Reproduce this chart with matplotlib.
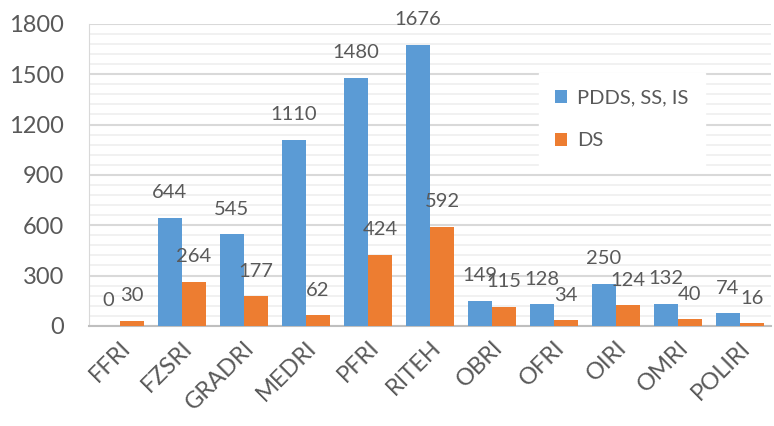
import matplotlib.pyplot as plt
import numpy as np
from matplotlib.ticker import MultipleLocator

categories = ['FFRI', 'FZSRI', 'GRADRI', 'MEDRI', 'PFRI', 'RITEH',
              'OBRI', 'OFRI', 'OIRI', 'OMRI', 'POLIRI']
pdds = [0, 644, 545, 1110, 1480, 1676, 149, 128, 250, 132, 74]
ds = [30, 264, 177, 62, 424, 592, 115, 34, 124, 40, 16]

blue = '#5B9BD5'
orange = '#ED7D31'
text_col = '#595959'

plt.rcParams['font.family'] = ['Lato', 'DejaVu Sans']

fig = plt.figure(figsize=(7.74, 4.26), dpi=100)
ax = fig.add_axes([0.115, 0.235, 0.881, 0.709])

x = np.arange(len(categories))
w = 0.39
b1 = ax.bar(x - w / 2, pdds, w, color=blue, label='PDDS, SS, IS', zorder=3)
b2 = ax.bar(x + w / 2, ds, w, color=orange, label='DS', zorder=3)

for bars in (b1, b2):
    for r in bars:
        h = r.get_height()
        ax.annotate(str(int(h)), (r.get_x() + r.get_width() / 2, h),
                    xytext=(0, 18), textcoords='offset points',
                    ha='center', va='center', fontsize=14.5, color=text_col)

ax.set_xlim(-0.5, len(categories) - 0.5)
ax.set_ylim(0, 1800)
ax.yaxis.set_major_locator(MultipleLocator(300))
ax.yaxis.set_minor_locator(MultipleLocator(60))
ax.grid(which='major', axis='y', color='#D9D9D9', linewidth=1.5, zorder=0)
ax.grid(which='minor', axis='y', color='#EFEFEF', linewidth=1.2, zorder=0)

ax.set_xticks(x)
ax.set_xticklabels(categories, rotation=45, ha='right', rotation_mode='anchor')
ax.tick_params(axis='both', which='both', length=0, colors=text_col)
ax.tick_params(axis='y', labelsize=17, pad=18)
ax.tick_params(axis='x', labelsize=17, pad=8)

for s in ('top', 'right'):
    ax.spines[s].set_visible(False)
ax.spines['left'].set_color('#D9D9D9')
ax.spines['bottom'].set_color('#BFBFBF')
ax.spines['bottom'].set_linewidth(1.5)

leg = ax.legend(loc='upper left', bbox_to_anchor=(0.645, 0.87), frameon=True,
                fancybox=False, edgecolor='white', framealpha=1,
                fontsize=14.5, handlelength=0.6, handleheight=0.6,
                labelspacing=1.3, borderpad=0.8, handletextpad=0.5)
for t in leg.get_texts():
    t.set_color(text_col)

plt.savefig('out.png', dpi=100)
